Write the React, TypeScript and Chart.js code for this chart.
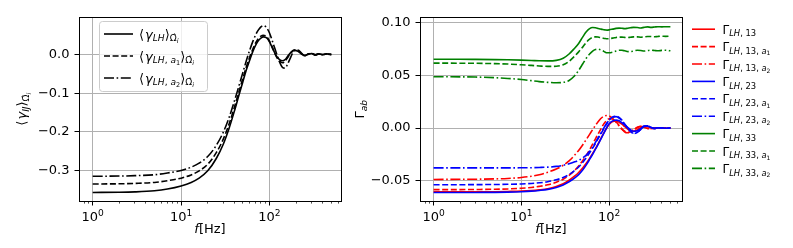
import React, { useEffect, useRef } from "react";
import { Chart, registerables } from "chart.js";
Chart.register(...registerables);

const FONT = '"DejaVu Sans"';
const GRID = "#b0b0b0";

// ---------- data ----------
const FREQ = [1, 2, 3, 5, 7, 10, 13, 16, 20, 25, 30, 35, 40, 45, 50, 55, 60, 65, 70, 75, 80, 85, 90, 95, 100, 110, 120, 130, 140, 150, 160, 175, 190, 210, 230, 250, 275, 300, 330, 360, 400, 440, 500];

const GAMMA_LH = [-0.357, -0.3565, -0.3555, -0.3525, -0.348, -0.340, -0.331, -0.320, -0.301, -0.269, -0.232, -0.190, -0.147, -0.106, -0.070, -0.038, -0.013, 0.009, 0.025, 0.0365, 0.043, 0.046, 0.045, 0.041, 0.033, 0.013, -0.004, -0.013, -0.016, -0.013, -0.005, 0.006, 0.011, 0.009, 0.002, -0.002, 0.001, 0.003, 0.000, 0.002, 0.000, 0.002, 0.001];
const GAMMA_LH_A1 = [-0.335, -0.3345, -0.3335, -0.331, -0.3265, -0.320, -0.3115, -0.301, -0.284, -0.254, -0.219, -0.179, -0.137, -0.097, -0.061, -0.030, -0.005, 0.015, 0.031, 0.042, 0.048, 0.050, 0.049, 0.044, 0.035, 0.014, -0.006, -0.017, -0.021, -0.017, -0.008, 0.005, 0.012, 0.010, 0.002, -0.003, 0.002, 0.003, -0.001, 0.002, 0.000, 0.002, 0.000];
const GAMMA_LH_A2 = [-0.315, -0.3145, -0.3135, -0.311, -0.3065, -0.300, -0.2915, -0.281, -0.264, -0.235, -0.201, -0.162, -0.121, -0.082, -0.046, -0.014, 0.013, 0.035, 0.052, 0.064, 0.072, 0.075, 0.073, 0.066, 0.056, 0.029, 0.003, -0.019, -0.033, -0.035, -0.025, -0.005, 0.010, 0.012, 0.004, -0.003, 0.001, 0.003, -0.001, 0.002, 0.000, 0.001, 0.000];

const G13 = [-0.0603, -0.0603, -0.0603, -0.0602, -0.0600, -0.0597, -0.0592, -0.0585, -0.0574, -0.0553, -0.0527, -0.0494, -0.0458, -0.0420, -0.0378, -0.0333, -0.0287, -0.0241, -0.0195, -0.0150, -0.0105, -0.0063, -0.0025, 0.0008, 0.0032, 0.0062, 0.0066, 0.0055, 0.0036, 0.0015, -0.0005, -0.0025, -0.0030, -0.0016, 0.0002, 0.0013, 0.0012, 0.0002, -0.0004, 0.0002, 0.0003, -0.0002, 0.0001];
const G13_A1 = [-0.0582, -0.0582, -0.0581, -0.0579, -0.0576, -0.0570, -0.0562, -0.0552, -0.0537, -0.0512, -0.0484, -0.0448, -0.0405, -0.0358, -0.0308, -0.0258, -0.0205, -0.0152, -0.0102, -0.0055, -0.0015, 0.0025, 0.0055, 0.0077, 0.0088, 0.0085, 0.0060, 0.0025, -0.0008, -0.0030, -0.0040, -0.0035, -0.0015, 0.0008, 0.0015, 0.0008, -0.0004, -0.0006, 0.0002, 0.0003, -0.0001, 0.0001, 0.0000];
const G13_A2 = [-0.0486, -0.0485, -0.0484, -0.0481, -0.0477, -0.0468, -0.0456, -0.0441, -0.0418, -0.0388, -0.0352, -0.0310, -0.0262, -0.0212, -0.0160, -0.0108, -0.0060, -0.0015, 0.0025, 0.0060, 0.0088, 0.0106, 0.0116, 0.0119, 0.0115, 0.0090, 0.0055, 0.0020, -0.0012, -0.0035, -0.0045, -0.0042, -0.0022, 0.0005, 0.0016, 0.0010, -0.0004, -0.0006, 0.0002, 0.0003, -0.0001, 0.0001, 0.0000];
const G23 = [-0.0610, -0.0610, -0.0609, -0.0608, -0.0606, -0.0602, -0.0597, -0.0590, -0.0580, -0.0562, -0.0538, -0.0508, -0.0476, -0.0440, -0.0397, -0.0348, -0.0297, -0.0248, -0.0200, -0.0155, -0.0110, -0.0068, -0.0028, 0.0010, 0.0040, 0.0068, 0.0075, 0.0068, 0.0050, 0.0030, 0.0010, -0.0015, -0.0030, -0.0025, -0.0005, 0.0015, 0.0018, 0.0005, -0.0004, 0.0003, 0.0002, -0.0002, 0.0000];
const G23_A1 = [-0.0536, -0.0536, -0.0535, -0.0534, -0.0532, -0.0529, -0.0524, -0.0518, -0.0508, -0.0490, -0.0468, -0.0440, -0.0405, -0.0368, -0.0325, -0.0280, -0.0235, -0.0190, -0.0145, -0.0100, -0.0060, -0.0022, 0.0015, 0.0048, 0.0075, 0.0105, 0.0112, 0.0100, 0.0075, 0.0040, 0.0010, -0.0030, -0.0050, -0.0040, -0.0010, 0.0018, 0.0022, 0.0008, -0.0005, 0.0003, 0.0002, -0.0002, 0.0001];
const G23_A2 = [-0.0377, -0.0377, -0.0377, -0.0377, -0.0377, -0.0376, -0.0375, -0.0373, -0.0370, -0.0363, -0.0352, -0.0338, -0.0322, -0.0305, -0.0283, -0.0255, -0.0220, -0.0180, -0.0135, -0.0092, -0.0052, -0.0015, 0.0020, 0.0050, 0.0075, 0.0102, 0.0108, 0.0095, 0.0070, 0.0038, 0.0008, -0.0030, -0.0052, -0.0042, -0.0012, 0.0016, 0.0020, 0.0007, -0.0005, 0.0003, 0.0001, -0.0002, 0.0001];
const G33 = [0.0650, 0.0650, 0.0649, 0.0647, 0.0645, 0.0642, 0.0639, 0.0636, 0.0635, 0.0640, 0.0660, 0.0700, 0.0750, 0.0800, 0.0860, 0.0910, 0.0940, 0.0950, 0.0948, 0.0942, 0.0936, 0.0931, 0.0928, 0.0926, 0.0928, 0.0935, 0.0942, 0.0945, 0.0944, 0.0940, 0.0942, 0.0948, 0.0952, 0.0950, 0.0946, 0.0952, 0.0956, 0.0952, 0.0955, 0.0958, 0.0956, 0.0958, 0.0958];
const G33_A1 = [0.0614, 0.0613, 0.0612, 0.0609, 0.0605, 0.0598, 0.0592, 0.0587, 0.0583, 0.0584, 0.0598, 0.0630, 0.0675, 0.0720, 0.0765, 0.0810, 0.0840, 0.0857, 0.0862, 0.0860, 0.0855, 0.0850, 0.0846, 0.0844, 0.0845, 0.0850, 0.0856, 0.0860, 0.0860, 0.0857, 0.0855, 0.0858, 0.0862, 0.0862, 0.0859, 0.0862, 0.0866, 0.0865, 0.0863, 0.0866, 0.0868, 0.0867, 0.0870];
const G33_A2 = [0.0485, 0.0484, 0.0482, 0.0476, 0.0469, 0.0459, 0.0448, 0.0439, 0.0432, 0.0428, 0.0432, 0.0450, 0.0490, 0.0545, 0.0605, 0.0660, 0.0700, 0.0728, 0.0742, 0.0745, 0.0740, 0.0730, 0.0718, 0.0712, 0.0712, 0.0718, 0.0728, 0.0735, 0.0735, 0.0730, 0.0724, 0.0722, 0.0728, 0.0735, 0.0733, 0.0728, 0.0732, 0.0736, 0.0733, 0.0730, 0.0734, 0.0735, 0.0730];

const X_MAJOR = [1, 10, 100];
const X_MAJOR_EXP = ["0", "1", "2"];
const X_MINOR_MULT = [2, 3, 4, 5, 6, 7, 8, 9];
const X_MINOR_DECADES = [0.1, 1, 10, 100];

const LEFT_Y_TICKS = [-0.3, -0.2, -0.1, 0.0];
const LEFT_Y_LABELS = ["\u22120.3", "\u22120.2", "\u22120.1", "0.0"];
const RIGHT_Y_TICKS = [-0.05, 0.0, 0.05, 0.1];
const RIGHT_Y_LABELS = ["\u22120.05", "0.00", "0.05", "0.10"];

type Seg = { t: string; it?: boolean; lv?: number; gap?: number };

const OMEGA_I: Seg[] = [{ t: "\u03A9\u0302", lv: 1 }, { t: "i", it: true, lv: 2 }];
const LEFT_NAMES: Seg[][] = [
  [{ t: "\u27E8", gap: 1 }, { t: "\u03B3", it: true }, { t: "LH", it: true, lv: 1 }, { t: "\u27E9" }, ...OMEGA_I],
  [{ t: "\u27E8", gap: 1 }, { t: "\u03B3", it: true }, { t: "LH", it: true, lv: 1 }, { t: ", ", lv: 1 }, { t: "a", it: true, lv: 1 }, { t: "1", lv: 2 }, { t: "\u27E9" }, ...OMEGA_I],
  [{ t: "\u27E8", gap: 1 }, { t: "\u03B3", it: true }, { t: "LH", it: true, lv: 1 }, { t: ", ", lv: 1 }, { t: "a", it: true, lv: 1 }, { t: "2", lv: 2 }, { t: "\u27E9" }, ...OMEGA_I],
];
const LEFT_Y_TITLE: Seg[] = [{ t: "\u27E8", gap: 1 }, { t: "\u03B3", it: true }, { t: "IJ", it: true, lv: 1 }, { t: "\u27E9" }, ...OMEGA_I];

function gname(idx: string, a?: string): Seg[] {
  const s: Seg[] = [{ t: "\u0393" }, { t: "LH", it: true, lv: 1 }, { t: ", " + idx, lv: 1 }];
  if (a) s.push({ t: ", ", lv: 1 }, { t: "a", it: true, lv: 1 }, { t: a, lv: 2 });
  return s;
}
const RIGHT_NAMES: Seg[][] = [
  gname("13"), gname("13", "1"), gname("13", "2"),
  gname("23"), gname("23", "1"), gname("23", "2"),
  gname("33"), gname("33", "1"), gname("33", "2"),
];
const RIGHT_Y_TITLE: Seg[] = [{ t: "\u0393" }, { t: "ab", it: true, lv: 1 }];
const X_TITLE: Seg[] = [{ t: "f", it: true }, { t: "[Hz]" }];

const DASHED = [6, 2.6];
const DASHDOT = [10, 2.6, 1.6, 2.6];
const SOLID: number[] = [];

// ---------- rich text ----------
function segStyle(s: Seg, base: number) {
  const lv = s.lv ?? 0;
  let size = base;
  let dy = 0;
  if (lv === 1) { size = base * 0.7; dy = base * 0.22; }
  else if (lv === 2) { size = base * 0.5; dy = base * 0.36; }
  else if (lv === -1) { size = base * 0.7; dy = -base * 0.42; }
  return { font: `${s.it ? "italic " : ""}${size}px ${FONT}`, dy };
}
function richWidth(ctx: CanvasRenderingContext2D, segs: Seg[], base: number) {
  let w = 0;
  for (const s of segs) {
    ctx.font = segStyle(s, base).font;
    w += ctx.measureText(s.t).width + (s.gap || 0);
  }
  return w;
}
function drawRich(ctx: CanvasRenderingContext2D, segs: Seg[], x: number, y: number, base: number, align: "left" | "center") {
  const w = richWidth(ctx, segs, base);
  let cx = align === "center" ? x - w / 2 : x;
  ctx.textAlign = "left";
  ctx.textBaseline = "alphabetic";
  ctx.fillStyle = "#000";
  for (const s of segs) {
    const st = segStyle(s, base);
    ctx.font = st.font;
    ctx.fillText(s.t, cx, y + st.dy);
    cx += ctx.measureText(s.t).width + (s.gap || 0);
  }
}

const isMajor = (v: number) => Math.abs(Math.log10(v) - Math.round(Math.log10(v))) < 1e-6;
const align1 = (p: number) => Math.round(p - 0.5) + 0.5;

type Series = { values: number[]; color: string; dash: number[] };
type Cfg = {
  series: Series[];
  xMin: number; xMax: number; yMin: number; yMax: number;
  yTicks: number[]; yLabels: string[];
  yWidth: number; padRight: number;
  yTitle: Seg[]; yTitleX: number;
  names: Seg[][];
  legend: "inside" | "outside";
};

function xTickValues(min: number, max: number) {
  const out: number[] = [...X_MAJOR];
  for (const d of X_MINOR_DECADES) for (const m of X_MINOR_MULT) {
    const v = d * m;
    if (v >= min && v <= max) out.push(v);
  }
  return out.sort((a, b) => a - b);
}

function overlayPlugin(cfg: Cfg) {
  return {
    id: "overlay",
    afterDraw(chart: any) {
      const ctx: CanvasRenderingContext2D = chart.ctx;
      const a = chart.chartArea;
      const xs = chart.scales.x;
      const ys = chart.scales.y;
      ctx.save();
      ctx.strokeStyle = "#000";
      ctx.setLineDash([]);
      for (const t of xs.ticks) {
        const px = xs.getPixelForValue(t.value);
        if (px < a.left - 0.5 || px > a.right + 0.5) continue;
        const maj = isMajor(t.value);
        ctx.lineWidth = maj ? 1 : 0.7;
        ctx.beginPath();
        ctx.moveTo(align1(px), a.bottom);
        ctx.lineTo(align1(px), a.bottom + (maj ? 4.5 : 2.6));
        ctx.stroke();
      }
      ctx.lineWidth = 1;
      for (const t of ys.ticks) {
        const py = ys.getPixelForValue(t.value);
        ctx.beginPath();
        ctx.moveTo(a.left - 4.5, align1(py));
        ctx.lineTo(a.left, align1(py));
        ctx.stroke();
      }
      ctx.lineWidth = 1;
      const l = align1(a.left), r = align1(a.right), tp = align1(a.top), b = align1(a.bottom);
      ctx.strokeRect(l, tp, r - l, b - tp);
      X_MAJOR.forEach((v, i) => {
        const px = xs.getPixelForValue(v);
        drawRich(ctx, [{ t: "10" }, { t: X_MAJOR_EXP[i], lv: -1 }], px, 221, 13, "center");
      });
      drawRich(ctx, X_TITLE, (a.left + a.right) / 2, 232.5, 13, "center");
      ctx.save();
      ctx.translate(cfg.yTitleX, (a.top + a.bottom) / 2);
      ctx.rotate(-Math.PI / 2);
      drawRich(ctx, cfg.yTitle, 0, 0, 13, "center");
      ctx.restore();
      if (cfg.legend === "inside") {
        ctx.fillStyle = "rgba(255,255,255,0.8)";
        ctx.strokeStyle = "#cccccc";
        ctx.lineWidth = 1;
        ctx.beginPath();
        (ctx as any).roundRect(99.5, 21.5, 108, 70, 3);
        ctx.fill();
        ctx.stroke();
        cfg.series.forEach((s, i) => {
          const yy = 34 + i * 22;
          ctx.strokeStyle = s.color;
          ctx.lineWidth = 1.6;
          ctx.setLineDash(s.dash);
          ctx.beginPath();
          ctx.moveTo(104, yy);
          ctx.lineTo(133, yy);
          ctx.stroke();
          ctx.setLineDash([]);
          drawRich(ctx, cfg.names[i], 139, yy + 4.5, 13, "left");
        });
      } else {
        cfg.series.forEach((s, i) => {
          const yy = 29.2 + i * 17.4;
          ctx.strokeStyle = s.color;
          ctx.lineWidth = 1.6;
          ctx.setLineDash(s.dash);
          ctx.beginPath();
          ctx.moveTo(342, yy);
          ctx.lineTo(365, yy);
          ctx.stroke();
          ctx.setLineDash([]);
          drawRich(ctx, cfg.names[i], 372.5, yy + 4.5, 12, "left");
        });
      }
      ctx.restore();
    },
  };
}

function buildConfig(cfg: Cfg): any {
  const n = cfg.series.length;
  const xt = xTickValues(cfg.xMin, cfg.xMax);
  return {
    type: "line",
    data: {
      datasets: cfg.series.map((s, i) => ({
        data: FREQ.map((f, j) => ({ x: f, y: s.values[j] })),
        borderColor: s.color,
        borderWidth: 1.6,
        borderDash: s.dash,
        pointRadius: 0,
        fill: false,
        cubicInterpolationMode: "monotone",
        order: n - i,
      })),
    },
    options: {
      responsive: false,
      animation: false,
      devicePixelRatio: 1,
      layout: { padding: { left: 0, top: 14, right: cfg.padRight, bottom: 0 } },
      plugins: { legend: { display: false }, tooltip: { enabled: false } },
      scales: {
        x: {
          type: "logarithmic",
          min: cfg.xMin,
          max: cfg.xMax,
          afterBuildTicks: (sc: any) => { sc.ticks = xt.map((v) => ({ value: v })); },
          afterFit: (sc: any) => { sc.height = 47; },
          ticks: { autoSkip: false, maxRotation: 0, callback: () => "" },
          grid: {
            color: (c: any) => (c.tick && isMajor(c.tick.value) ? GRID : "rgba(0,0,0,0)"),
            lineWidth: 1,
            drawTicks: false,
          },
          border: { display: false },
        },
        y: {
          type: "linear",
          min: cfg.yMin,
          max: cfg.yMax,
          afterBuildTicks: (sc: any) => { sc.ticks = cfg.yTicks.map((v) => ({ value: v })); },
          afterFit: (sc: any) => { sc.width = cfg.yWidth; },
          ticks: {
            autoSkip: false,
            padding: 9.5,
            color: "#000",
            font: { family: "DejaVu Sans", size: 13 },
            callback: (v: number) => {
              const i = cfg.yTicks.findIndex((t) => Math.abs(t - v) < 1e-9);
              return i >= 0 ? cfg.yLabels[i] : "";
            },
          },
          grid: { color: GRID, lineWidth: 1, drawTicks: false },
          border: { display: false },
        },
      },
    },
    plugins: [overlayPlugin(cfg)],
  };
}

const LEFT_CFG: Cfg = {
  series: [
    { values: GAMMA_LH, color: "#000000", dash: SOLID },
    { values: GAMMA_LH_A1, color: "#000000", dash: DASHED },
    { values: GAMMA_LH_A2, color: "#000000", dash: DASHDOT },
  ],
  xMin: 0.733, xMax: 644, yMin: -0.3791, yMax: 0.0967,
  yTicks: LEFT_Y_TICKS, yLabels: LEFT_Y_LABELS,
  yWidth: 79, padRight: 9,
  yTitle: LEFT_Y_TITLE, yTitleX: 26,
  names: LEFT_NAMES, legend: "inside",
};

const RIGHT_CFG: Cfg = {
  series: [
    { values: G13, color: "#ff0000", dash: SOLID },
    { values: G13_A1, color: "#ff0000", dash: DASHED },
    { values: G13_A2, color: "#ff0000", dash: DASHDOT },
    { values: G23, color: "#0000ff", dash: SOLID },
    { values: G23_A1, color: "#0000ff", dash: DASHED },
    { values: G23_A2, color: "#0000ff", dash: DASHDOT },
    { values: G33, color: "#008000", dash: SOLID },
    { values: G33_A1, color: "#008000", dash: DASHED },
    { values: G33_A2, color: "#008000", dash: DASHDOT },
  ],
  xMin: 0.731, xMax: 678, yMin: -0.0690, yMax: 0.1047,
  yTicks: RIGHT_Y_TICKS, yLabels: RIGHT_Y_LABELS,
  yWidth: 70, padRight: 111,
  yTitle: RIGHT_Y_TITLE, yTitleX: 14,
  names: RIGHT_NAMES, legend: "outside",
};

function ChartCanvas({ cfg, left, width }: { cfg: Cfg; left: number; width: number }) {
  const ref = useRef<HTMLCanvasElement | null>(null);
  useEffect(() => {
    if (!ref.current) return;
    const chart = new Chart(ref.current, buildConfig(cfg));
    return () => chart.destroy();
  }, [cfg]);
  return (
    <canvas
      ref={ref}
      width={width}
      height={248}
      style={{ position: "absolute", left, top: 0, width, height: 248 }}
    />
  );
}

export default function App() {
  return (
    <div style={{ position: "fixed", left: 0, top: 0, width: 793, height: 248, background: "#fff", overflow: "hidden" }}>
      <ChartCanvas cfg={LEFT_CFG} left={0} width={350} />
      <ChartCanvas cfg={RIGHT_CFG} left={350} width={443} />
    </div>
  );
}
